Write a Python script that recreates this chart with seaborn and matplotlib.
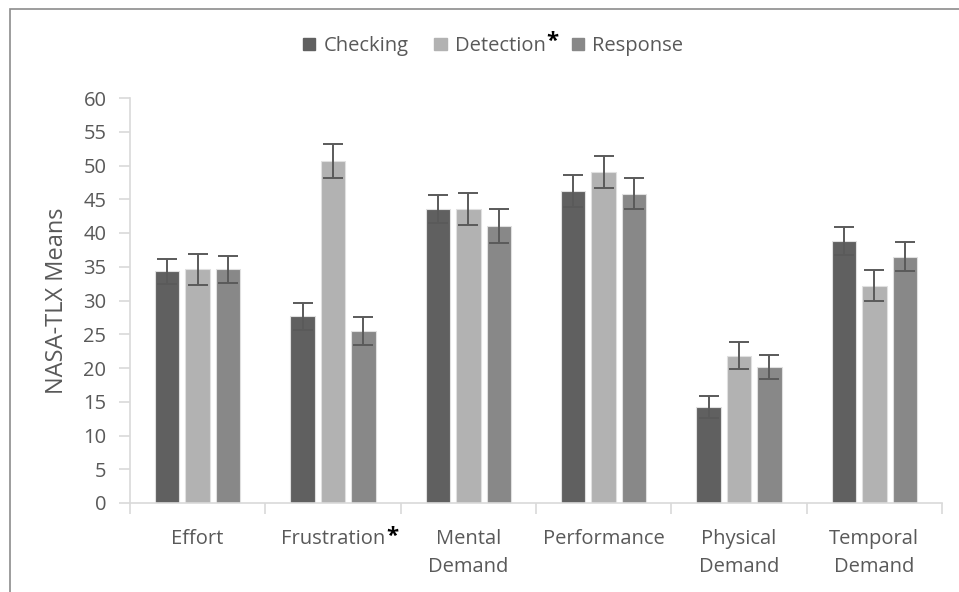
import matplotlib
matplotlib.use("Agg")
import matplotlib.pyplot as plt
import seaborn as sns
import pandas as pd
import numpy as np
from matplotlib.patches import Patch, Rectangle

categories = ["Effort", "Frustration", "Mental\nDemand", "Performance", "Physical\nDemand", "Temporal\nDemand"]
groups = ["Checking", "Detection", "Response"]
checking = [34.3, 27.7, 43.6, 46.2, 14.2, 38.8]
detection = [34.6, 50.7, 43.6, 49.0, 21.8, 32.2]
response = [34.6, 25.5, 41.0, 45.8, 20.1, 36.5]
checking_err = [1.9, 2.0, 2.1, 2.4, 1.6, 2.1]
detection_err = [2.3, 2.5, 2.4, 2.4, 2.0, 2.3]
response_err = [2.0, 2.1, 2.5, 2.3, 1.8, 2.1]
yticks = [0, 5, 10, 15, 20, 25, 30, 35, 40, 45, 50, 55, 60]

colors = ["#606060", "#b2b2b2", "#888888"]
text_color = "#595959"
axis_color = "#d9d9d9"

rows = []
for g, vals, errs in zip(groups, [checking, detection, response], [checking_err, detection_err, response_err]):
    for c, v, e in zip(categories, vals, errs):
        rows.append({"category": c, "group": g, "value": v, "err": e})
df = pd.DataFrame(rows)

sns.set_theme(style="white")
plt.rcParams["font.family"] = ["Open Sans", "DejaVu Sans"]

W, H = 959, 592
fig = plt.figure(figsize=(W / 100, H / 100), dpi=100)
ax = fig.add_axes([130 / W, 1 - 503 / H, (942 - 130) / W, (503 - 98) / H])

sns.barplot(data=df, x="category", y="value", hue="group", order=categories,
            hue_order=groups, palette=colors, errorbar=None, width=0.676, gap=0.2,
            edgecolor="#e0e0e0", linewidth=0.8, ax=ax, legend=False)

err_lists = [checking_err, detection_err, response_err]
for cont, errs in zip(ax.containers, err_lists):
    xs = [p.get_x() + p.get_width() / 2 for p in cont]
    hs = [p.get_height() for p in cont]
    ax.errorbar(xs, hs, yerr=errs, fmt="none", ecolor="#5a5a5a", elinewidth=1.4,
                capsize=7.5, capthick=1.4, zorder=5)

ax.set_ylim(0, 60)
ax.set_xlim(-0.5, len(categories) - 0.5)
ax.set_yticks(yticks)
ax.set_yticklabels([str(t) for t in yticks])
ax.set_xlabel("")
ax.set_ylabel("NASA-TLX Means", fontsize=17, color=text_color, labelpad=10)

for s in ["top", "right"]:
    ax.spines[s].set_visible(False)
for s in ["left", "bottom"]:
    ax.spines[s].set_color(axis_color)
    ax.spines[s].set_linewidth(1.2)

ax.tick_params(axis="y", which="major", left=True, length=8, width=1.2, color=axis_color,
               labelsize=14.5, labelcolor=text_color, pad=9)
ax.tick_params(axis="x", which="major", bottom=False, length=0, labelsize=14.5,
               labelcolor=text_color, pad=19)
ax.set_xticks(np.arange(-0.5, len(categories) + 0.5, 1), minor=True)
ax.tick_params(axis="x", which="minor", bottom=True, length=8, width=1.2, color=axis_color)
for lab in ax.get_xticklabels():
    lab.set_linespacing(1.52)

# legend
handles = [Patch(facecolor=c, edgecolor=c) for c in colors]
leg = fig.legend(handles=handles, labels=groups, loc="center", bbox_to_anchor=(493 / W, 1 - 46 / H),
                 ncol=3, frameon=False, fontsize=14.5, handlelength=0.6, handleheight=0.6,
                 handletextpad=0.4, columnspacing=1.3, labelcolor=text_color)

# black asterisks after "Frustration" and "Detection"
fig.canvas.draw()
renderer = fig.canvas.get_renderer()
frus_bb = ax.get_xticklabels()[1].get_window_extent(renderer)
fig.text(frus_bb.x1 + 1, frus_bb.y1 + 3, "*", ha="left", va="top", fontsize=16,
         color="black", fontweight="bold")
det_bb = leg.get_texts()[1].get_window_extent(renderer)
fig.text(det_bb.x1 + 1, det_bb.y1 + 5, "*", ha="left", va="top", fontsize=16,
         color="black", fontweight="bold")
for t in fig.texts[-2:]:
    x, y = t.get_position()
    t.set_position((x / W, y / H))

# chart border (left and top visible)
fig.patches.append(Rectangle((9.5 / W, -0.05), 1.2, 1 - 8.5 / H + 0.05, transform=fig.transFigure,
                             fill=False, edgecolor="#8c8c8c", linewidth=1.2))

fig.savefig("out.png", dpi=100)
